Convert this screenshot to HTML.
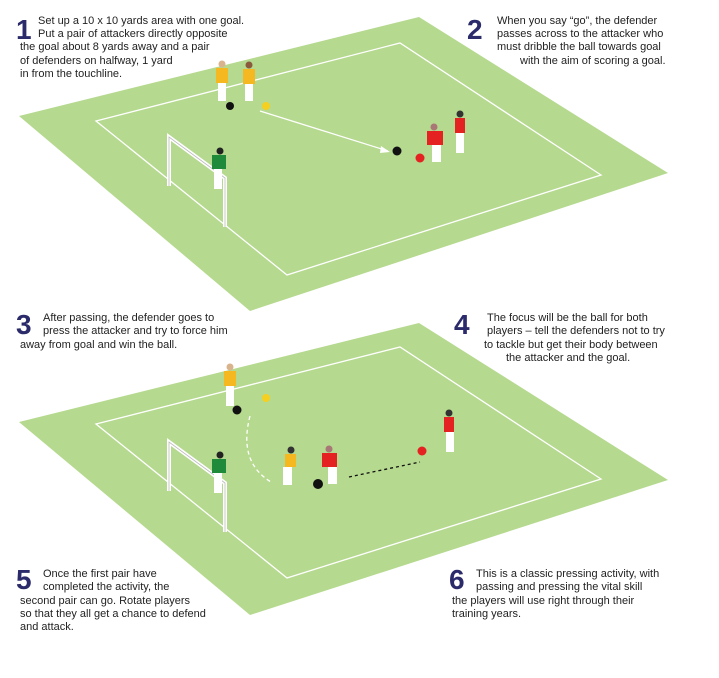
<!DOCTYPE html>
<html><head><meta charset="utf-8"><style>
body{margin:0;background:#fff;width:719px;height:678px;overflow:hidden}
svg{display:block}
.t{font-family:"Liberation Sans Narrow","Liberation Sans",sans-serif;font-size:11px;fill:#222}
.n{font-family:"Liberation Sans",sans-serif;font-weight:bold;font-size:28px;fill:#2b2b6b}
</style></head><body>
<svg width="719" height="678" viewBox="0 0 719 678">
<defs>
<g id="goal"><path d="M169 186 L169 137 L225 178 L225 227" fill="none" stroke="#fff" stroke-width="4"/><path d="M169 186 L169 137 L225 178 L225 227" fill="none" stroke="#bbb" stroke-width="0.8"/></g>
</defs>
<!-- pitch 1 -->
<polygon points="19,116 419,17 668,173 250,311" fill="#b5d98e"/>
<polygon points="96,121 400,43 601,175 287,275" fill="none" stroke="#fff" stroke-width="1.3"/>
<!-- pitch 2 -->
<polygon points="19,422 419,323 668,480 250,615" fill="#b5d98e"/>
<polygon points="96,424 400,347 601,479 287,578" fill="none" stroke="#fff" stroke-width="1.3"/>

<!-- top scene -->
<use href="#goal"/>
<line x1="260" y1="111" x2="388" y2="151" stroke="#fff" stroke-width="1.3"/>
<polygon points="390,152 381,146 380,153" fill="#fff"/>
<circle cx="222" cy="64" r="3.5" fill="#d9b38c"/><rect x="216" y="68" width="12" height="15" fill="#f5b820"/><rect x="218" y="83" width="8" height="18" fill="#fff"/>
<circle cx="249" cy="65" r="3.5" fill="#8b5a3c"/><rect x="243" y="69" width="12" height="15" fill="#f5b820"/><rect x="245" y="84" width="8" height="17" fill="#fff"/>
<circle cx="230" cy="106" r="4" fill="#111"/><circle cx="266" cy="106" r="4" fill="#f5d020"/>
<circle cx="220" cy="151" r="3.5" fill="#222"/><rect x="212" y="155" width="14" height="14" fill="#1e8a3a"/><rect x="214" y="169" width="8" height="20" fill="#fff"/>
<circle cx="434" cy="127" r="3.5" fill="#a77"/><rect x="427" y="131" width="16" height="14" fill="#e52222"/><rect x="432" y="145" width="9" height="17" fill="#fff"/>
<circle cx="460" cy="114" r="3.5" fill="#333"/><rect x="455" y="118" width="10" height="15" fill="#e52222"/><rect x="456" y="133" width="8" height="20" fill="#fff"/>
<circle cx="397" cy="151" r="4.5" fill="#111"/><circle cx="420" cy="158" r="4.5" fill="#e52222"/>

<!-- bottom scene -->
<use href="#goal" transform="translate(0,305)"/>
<path d="M250 416 Q238 462 271 482" fill="none" stroke="#fff" stroke-width="1.3" stroke-dasharray="4,3"/>
<line x1="349" y1="477" x2="420" y2="462" stroke="#111" stroke-width="1.3" stroke-dasharray="3,3"/>
<circle cx="230" cy="367" r="3.5" fill="#d9b38c"/><rect x="224" y="371" width="12" height="15" fill="#f5b820"/><rect x="226" y="386" width="8" height="20" fill="#fff"/>
<circle cx="237" cy="410" r="4.5" fill="#111"/><circle cx="266" cy="398" r="4" fill="#f5d020"/>
<circle cx="220" cy="455" r="3.5" fill="#222"/><rect x="212" y="459" width="14" height="14" fill="#1e8a3a"/><rect x="214" y="473" width="8" height="20" fill="#fff"/>
<circle cx="291" cy="450" r="3.5" fill="#333"/><rect x="285" y="454" width="11" height="13" fill="#f5b820"/><rect x="283" y="467" width="9" height="18" fill="#fff"/>
<circle cx="329" cy="449" r="3.5" fill="#a77"/><rect x="322" y="453" width="15" height="14" fill="#e52222"/><rect x="328" y="467" width="9" height="17" fill="#fff"/>
<circle cx="318" cy="484" r="5" fill="#111"/>
<circle cx="449" cy="413" r="3.5" fill="#333"/><rect x="444" y="417" width="10" height="15" fill="#e52222"/><rect x="446" y="432" width="8" height="20" fill="#fff"/>
<circle cx="422" cy="451" r="4.5" fill="#e52222"/>

<!-- text -->
<text class="n" x="16" y="39">1</text>
<text class="t"><tspan x="38" y="24">Set up a 10 x 10 yards area with one goal.</tspan><tspan x="38" y="37">Put a pair of attackers directly opposite</tspan><tspan x="20" y="50">the goal about 8 yards away and a pair</tspan><tspan x="20" y="64">of defenders on halfway, 1 yard</tspan><tspan x="20" y="77">in from the touchline.</tspan></text>
<text class="n" x="467" y="39">2</text>
<text class="t"><tspan x="497" y="24">When you say “go”, the defender</tspan><tspan x="497" y="37">passes across to the attacker who</tspan><tspan x="497" y="50">must dribble the ball towards goal</tspan><tspan x="520" y="64">with the aim of scoring a goal.</tspan></text>
<text class="n" x="16" y="334">3</text>
<text class="t"><tspan x="43" y="321">After passing, the defender goes to</tspan><tspan x="43" y="334">press the attacker and try to force him</tspan><tspan x="20" y="348">away from goal and win the ball.</tspan></text>
<text class="n" x="454" y="334">4</text>
<text class="t"><tspan x="487" y="321">The focus will be the ball for both</tspan><tspan x="487" y="334">players – tell the defenders not to try</tspan><tspan x="484" y="348">to tackle but get their body between</tspan><tspan x="506" y="361">the attacker and the goal.</tspan></text>
<text class="n" x="16" y="589">5</text>
<text class="t"><tspan x="43" y="577">Once the first pair have</tspan><tspan x="43" y="590">completed the activity, the</tspan><tspan x="20" y="604">second pair can go. Rotate players</tspan><tspan x="20" y="617">so that they all get a chance to defend</tspan><tspan x="20" y="630">and attack.</tspan></text>
<text class="n" x="449" y="589">6</text>
<text class="t"><tspan x="476" y="577">This is a classic pressing activity, with</tspan><tspan x="476" y="590">passing and pressing the vital skill</tspan><tspan x="452" y="604">the players will use right through their</tspan><tspan x="452" y="617">training years.</tspan></text>
</svg>
</body></html>
